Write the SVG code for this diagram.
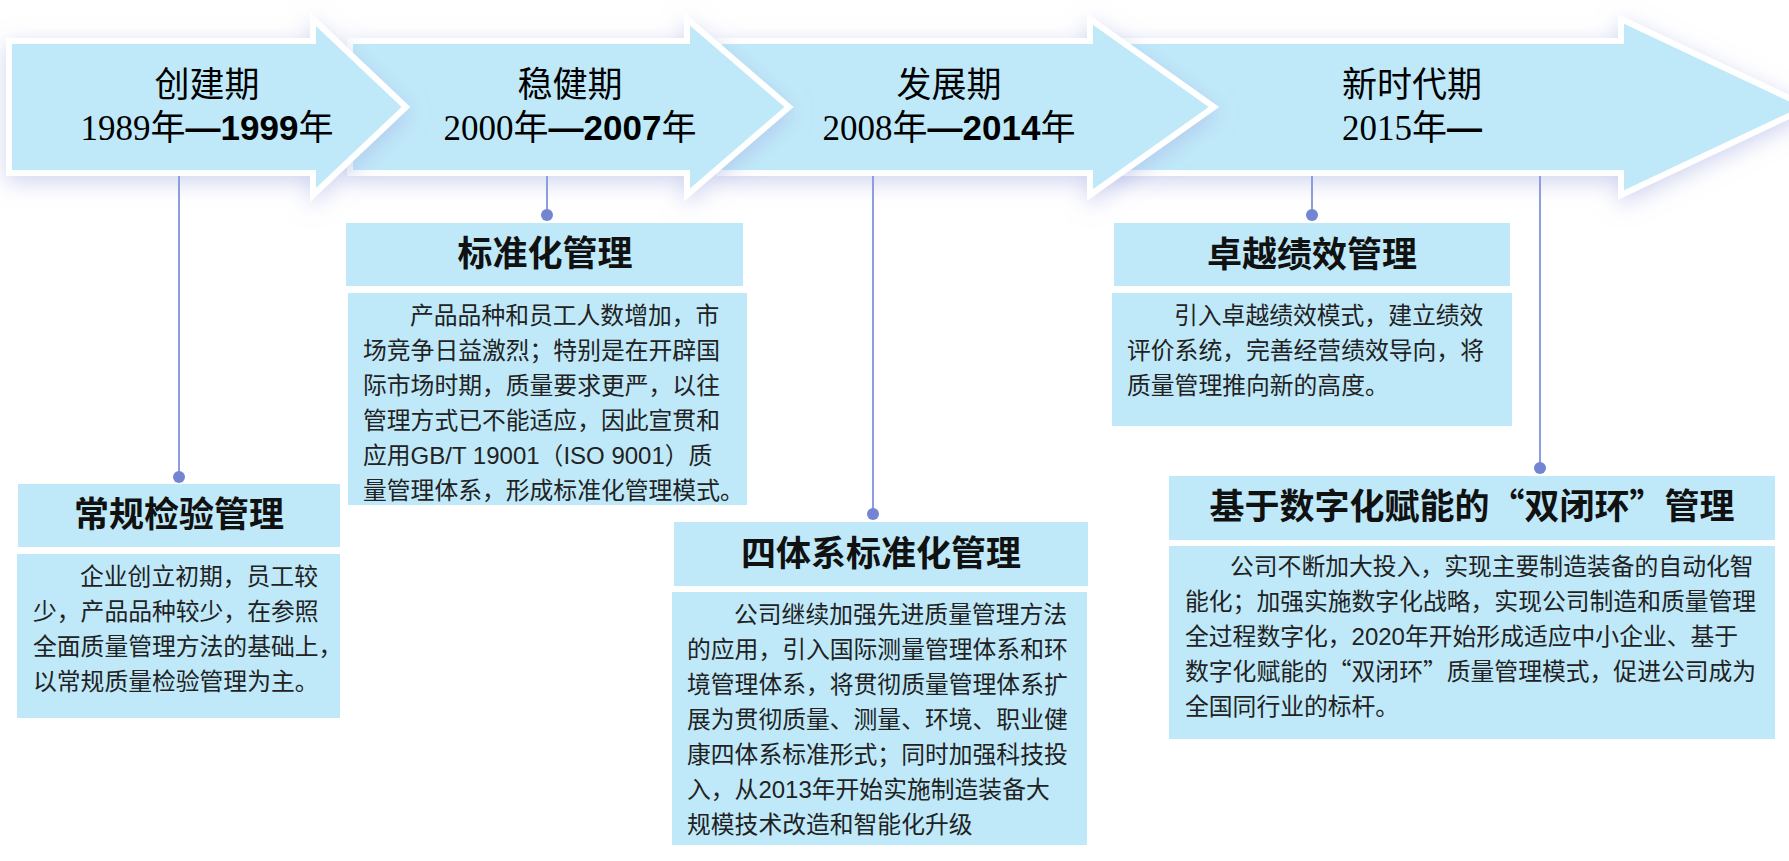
<svg xmlns="http://www.w3.org/2000/svg" width="1789" height="861" viewBox="0 0 1789 861">
<defs>
<filter id="sh" x="-15%" y="-50%" width="130%" height="200%">
<feDropShadow dx="0" dy="6" stdDeviation="11" flood-color="#A9B1E2" flood-opacity="0.55"/>
</filter>
<style>
.arrow{fill:#BFE9F9;stroke:#fff;stroke-width:6;stroke-linejoin:miter;filter:url(#sh)}
.box{fill:#BFE9F9}
.ttl{font-family:"Noto Sans CJK SC",sans-serif;font-size:35px;font-weight:bold;text-anchor:middle;fill:#111}
.body{font-family:"Noto Sans CJK SC",sans-serif;font-size:23.8px;fill:#222}
.lat{font-family:"Liberation Sans",sans-serif;font-size:24px}
.per{font-family:"Noto Sans CJK SC",sans-serif;font-size:35px;text-anchor:middle;fill:#000}
.ser{font-family:"Liberation Serif",serif}
.bsans{font-family:"Liberation Sans",sans-serif;font-weight:bold}
.link{stroke:#8E9DDF;stroke-width:2;fill:none}
.dot{fill:#7384D2}
</style>
</defs>
<rect width="1789" height="861" fill="#fff"/>

<g id="arrows">
<g id="arrow4">
<path class="arrow" d="M1107,41 H1621 V19 L1808,107 L1621,195 V173 H1107 Z"/>
<text class="per"><tspan x="1412" y="97">新时代期</tspan><tspan x="1412" y="140"><tspan class="ser">2015</tspan>年<tspan class="bsans">—</tspan></tspan></text>
</g>
<g id="arrow3">
<path class="arrow" d="M719,41 H1090 V19 L1214,107 L1090,195 V173 H719 Z"/>
<text class="per"><tspan x="949" y="97">发展期</tspan><tspan x="949" y="140"><tspan class="ser">2008</tspan>年<tspan class="bsans">—2014</tspan>年</tspan></text>
</g>
<g id="arrow2">
<path class="arrow" d="M350,41 H687 V19 L789,107 L687,195 V173 H350 Z"/>
<text class="per"><tspan x="570" y="97">稳健期</tspan><tspan x="570" y="140"><tspan class="ser">2000</tspan>年<tspan class="bsans">—2007</tspan>年</tspan></text>
</g>
<g id="arrow1">
<path class="arrow" d="M9,41 H313 V19 L406,107 L313,195 V173 H9 Z"/>
<text class="per"><tspan x="207" y="97">创建期</tspan><tspan x="207" y="140"><tspan class="ser">1989</tspan>年<tspan class="bsans">—1999</tspan>年</tspan></text>
</g>
</g>

<g id="connectors">
<line class="link" x1="179" y1="176" x2="179" y2="477"/>
<circle class="dot" cx="179" cy="477" r="6"/>
<line class="link" x1="547" y1="176" x2="547" y2="215"/>
<circle class="dot" cx="547" cy="215" r="6"/>
<line class="link" x1="873" y1="176" x2="873" y2="514"/>
<circle class="dot" cx="873" cy="514" r="6"/>
<line class="link" x1="1312" y1="176" x2="1312" y2="215"/>
<circle class="dot" cx="1312" cy="215" r="6"/>
<line class="link" x1="1540" y1="176" x2="1540" y2="468"/>
<circle class="dot" cx="1540" cy="468" r="6"/>
</g>

<g id="node1">
<rect class="box" x="18" y="484" width="322" height="63"/>
<text class="ttl" x="179" y="527">常规检验管理</text>
<rect class="box" x="17" y="554" width="323" height="164"/>
<text class="body" x="33" y="585"><tspan x="80">企业创立初期，员工较</tspan><tspan x="33" dy="35">少，产品品种较少，在参照</tspan><tspan x="33" dy="35">全面质量管理方法的基础上，</tspan><tspan x="33" dy="35">以常规质量检验管理为主。</tspan></text>
</g>

<g id="node2">
<rect class="box" x="346" y="223" width="397" height="63"/>
<text class="ttl" x="545" y="266">标准化管理</text>
<rect class="box" x="348" y="293" width="399" height="212"/>
<text class="body" x="363" y="324"><tspan x="410">产品品种和员工人数增加，市</tspan><tspan x="363" dy="35">场竞争日益激烈；特别是在开辟国</tspan><tspan x="363" dy="35">际市场时期，质量要求更严，以往</tspan><tspan x="363" dy="35">管理方式已不能适应，因此宣贯和</tspan><tspan x="363" dy="35">应用<tspan class="lat">GB/T 19001</tspan>（<tspan class="lat">ISO 9001</tspan>）质</tspan><tspan x="363" dy="35">量管理体系，形成标准化管理模式。</tspan></text>
</g>

<g id="node3">
<rect class="box" x="674" y="522" width="414" height="64"/>
<text class="ttl" x="881" y="566">四体系标准化管理</text>
<rect class="box" x="672" y="592" width="415" height="253"/>
<text class="body" x="687" y="623"><tspan x="734">公司继续加强先进质量管理方法</tspan><tspan x="687" dy="35">的应用，引入国际测量管理体系和环</tspan><tspan x="687" dy="35">境管理体系，将贯彻质量管理体系扩</tspan><tspan x="687" dy="35">展为贯彻质量、测量、环境、职业健</tspan><tspan x="687" dy="35">康四体系标准形式；同时加强科技投</tspan><tspan x="687" dy="35">入，从<tspan class="lat">2013</tspan>年开始实施制造装备大</tspan><tspan x="687" dy="35">规模技术改造和智能化升级</tspan></text>
</g>

<g id="node4">
<rect class="box" x="1114" y="223" width="396" height="63"/>
<text class="ttl" x="1312" y="267">卓越绩效管理</text>
<rect class="box" x="1112" y="293" width="400" height="133"/>
<text class="body" x="1127" y="324"><tspan x="1174">引入卓越绩效模式，建立绩效</tspan><tspan x="1127" dy="35">评价系统，完善经营绩效导向，将</tspan><tspan x="1127" dy="35">质量管理推向新的高度。</tspan></text>
</g>

<g id="node5">
<rect class="box" x="1169" y="476" width="606" height="64"/>
<text class="ttl" x="1472" y="519">基于数字化赋能的“双闭环”管理</text>
<rect class="box" x="1169" y="546" width="606" height="193"/>
<text class="body" x="1185" y="575"><tspan x="1230">公司不断加大投入，实现主要制造装备的自动化智</tspan><tspan x="1185" dy="35">能化；加强实施数字化战略，实现公司制造和质量管理</tspan><tspan x="1185" dy="35">全过程数字化，<tspan class="lat">2020</tspan>年开始形成适应中小企业、基于</tspan><tspan x="1185" dy="35">数字化赋能的“双闭环”质量管理模式，促进公司成为</tspan><tspan x="1185" dy="35">全国同行业的标杆。</tspan></text>
</g>
</svg>
